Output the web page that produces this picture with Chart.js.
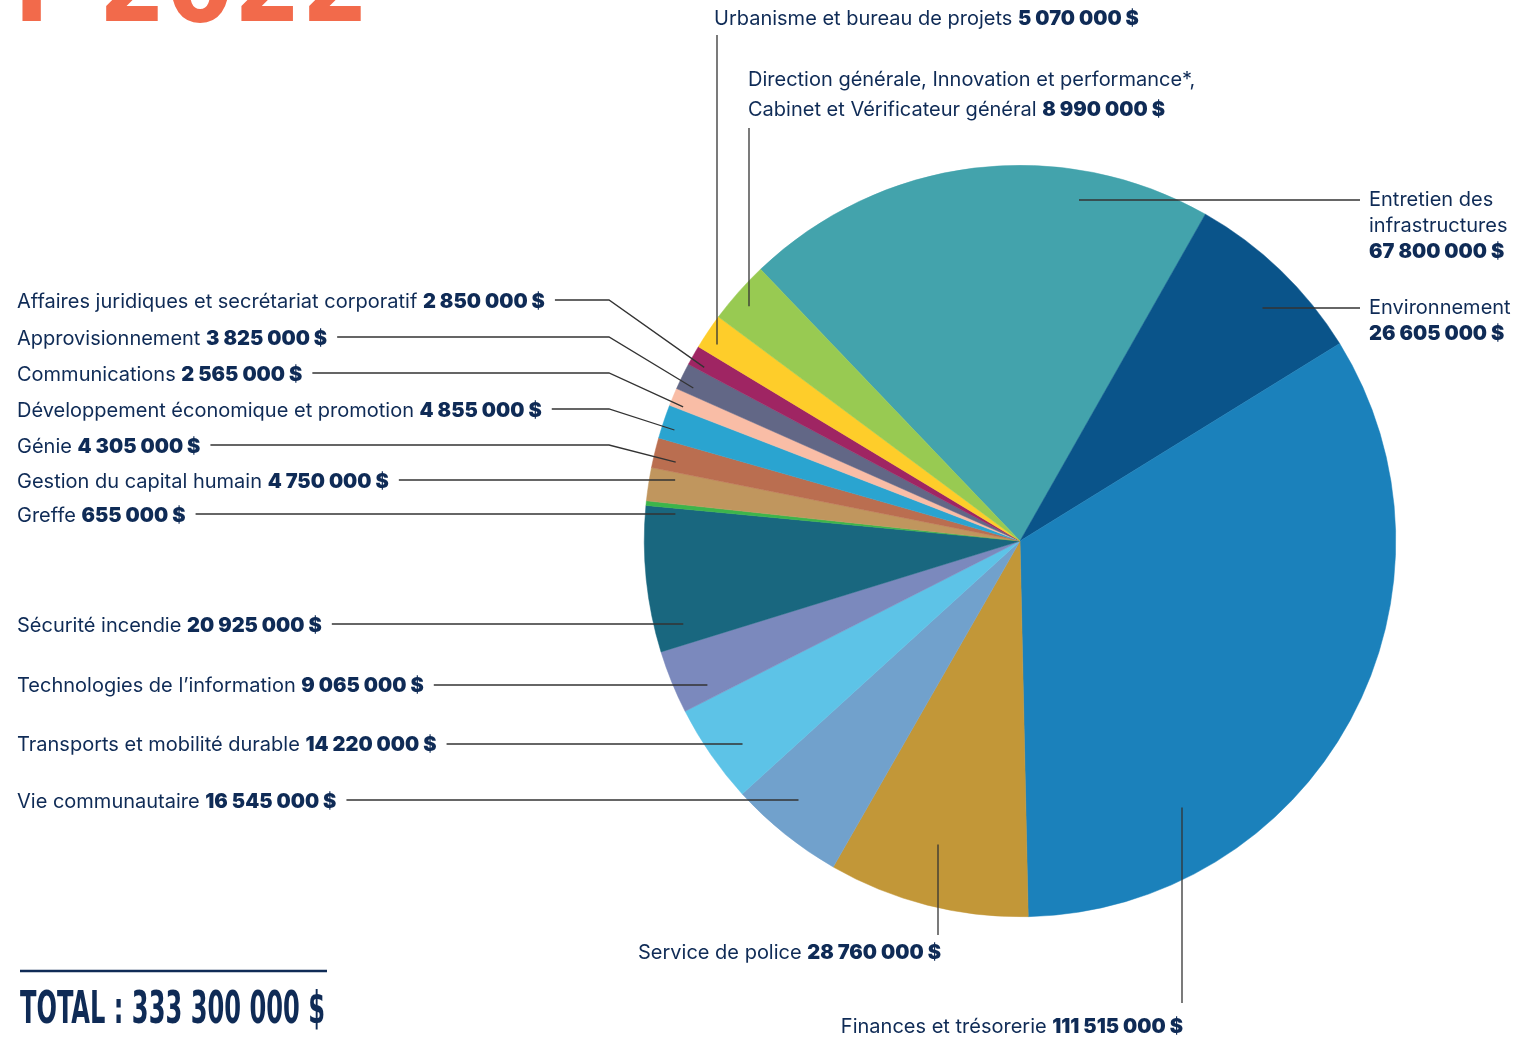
<!DOCTYPE html>
<html>
<head>
<meta charset="utf-8">
<script src="https://cdn.jsdelivr.net/npm/chart.js@4.4.1/dist/chart.umd.min.js"></script>
<style>
  html, body { margin: 0; padding: 0; background: #fff; }
  #wrap { width: 1536px; height: 1041px; position: relative; }
</style>
</head>
<body>
<div id="wrap"><canvas id="budgetChart"></canvas></div>
<script>
// Données du budget par service
var categories = [
  "Entretien des infrastructures",
  "Environnement",
  "Finances et trésorerie",
  "Service de police",
  "Vie communautaire",
  "Transports et mobilité durable",
  "Technologies de l’information",
  "Sécurité incendie",
  "Greffe",
  "Gestion du capital humain",
  "Génie",
  "Développement économique et promotion",
  "Communications",
  "Approvisionnement",
  "Affaires juridiques et secrétariat corporatif",
  "Urbanisme et bureau de projets",
  "Direction générale, Innovation et performance*, Cabinet et Vérificateur général"
];
var values = [
  67800000, 26605000, 111515000, 28760000, 16545000, 14220000, 9065000,
  20925000, 655000, 4750000, 4305000, 4855000, 2565000, 3825000, 2850000,
  5070000, 8990000
];
var colors = [
  "#43a3ac", "#0a548a", "#1b81bb", "#c29738", "#71a1cc", "#5dc3e7", "#7b89bd",
  "#19677f", "#3cb54b", "#c0965e", "#ba6e50", "#2aa4d0", "#f9bda6", "#626786",
  "#9f2563", "#fecd2a", "#98ca52"
];

// Mise en page des étiquettes (même ordre que categories)
var labelLayout = [
  { x: 1369, y: 198, lh: 26, lines: ["Entretien des", "infrastructures"], ownLine: true, leader: { type: "h", y: 200, rf: 0.921, side: 1, to: 1360 } },
  { x: 1369, y: 306, lh: 26, lines: ["Environnement"], ownLine: true, leader: { type: "h", y: 308, rf: 0.895, side: 1, to: 1360 } },
  { x: 1183, y: 1025, right: true, lines: ["Finances et trésorerie"], leader: { type: "v", x: 1182, from: 1003, rf: 0.83, side: 1 } },
  { x: 941, y: 951, right: true, lines: ["Service de police"], leader: { type: "v", x: 938, from: 935, rf: 0.837, side: 1 } },
  { x: 17, y: 800, lines: ["Vie communautaire"], leader: { type: "h", y: 800, rf: 0.907, side: -1 } },
  { x: 17, y: 743, lines: ["Transports et mobilité durable"], leader: { type: "h", y: 744, rf: 0.915, side: -1 } },
  { x: 17, y: 684, lines: ["Technologies de l’information"], leader: { type: "h", y: 685, rf: 0.916, side: -1 } },
  { x: 17, y: 624, lines: ["Sécurité incendie"], leader: { type: "h", y: 624, rf: 0.923, side: -1 } },
  { x: 17, y: 514, lines: ["Greffe"], leader: { type: "h", y: 514, rf: 0.92, side: -1 } },
  { x: 17, y: 480, lines: ["Gestion du capital humain"], leader: { type: "h", y: 480, rf: 0.932, side: -1 } },
  { x: 17, y: 445, lines: ["Génie"], leader: { type: "elbow", ex: 609, t: 0.35, rf: 0.94 } },
  { x: 17, y: 409, lines: ["Développement économique et promotion"], leader: { type: "elbow", ex: 609, t: 0.36, rf: 0.966 } },
  { x: 17, y: 373, lines: ["Communications"], leader: { type: "elbow", ex: 609, t: 0.2, rf: 0.965 } },
  { x: 17, y: 337, lines: ["Approvisionnement"], leader: { type: "elbow", ex: 609, t: 0.28, rf: 0.96 } },
  { x: 17, y: 300, lines: ["Affaires juridiques et secrétariat corporatif"], leader: { type: "elbow", ex: 609, t: 0.24, rf: 0.959 } },
  { x: 714, y: 17, lines: ["Urbanisme et bureau de projets"], leader: { type: "v", x: 717, from: 35, rf: 0.961, side: -1 } },
  { x: 748, y: 78, lh: 30, lines: ["Direction générale, Innovation et performance*,", "Cabinet et Vérificateur général"], leader: { type: "v", x: 749, from: 128, rf: 0.954, side: -1 } }
];

var textColor = "#0f2b56";
var fontName = "400 20px Inter, 'Noto Sans', sans-serif";
var fontValue = "900 20px Inter, 'Noto Sans', sans-serif";
var textNudge = 1.5; // le texte Inter « middle » est un peu haut

function money(v) {
  return String(v).replace(/\B(?=(\d{3})+(?!\d))/g, " ") + " $";
}

// Dessine les étiquettes, les lignes de rappel, le titre et le total
var labelsPlugin = {
  id: "budgetLabels",
  afterDraw: function (chart) {
    var ctx = chart.ctx;
    var arcs = chart.getDatasetMeta(0).data;
    ctx.save();
    ctx.textBaseline = "middle";
    ctx.textAlign = "left";

    labelLayout.forEach(function (lay, i) {
      var val = money(values[i]);
      var rows = lay.lines.slice();
      var lh = lay.lh || 26;
      var lastEnd = 0;
      rows.forEach(function (row, k) {
        var y = lay.y + k * lh + textNudge;
        var isLast = k === rows.length - 1;
        ctx.font = fontName;
        var wName = ctx.measureText(row).width;
        var wSp = ctx.measureText(" ").width;
        ctx.font = fontValue;
        var wVal = ctx.measureText(val).width;
        var withVal = isLast && !lay.ownLine;
        var total = wName + (withVal ? wSp + wVal : 0);
        var x0 = lay.right ? lay.x - total : lay.x;
        ctx.fillStyle = textColor;
        ctx.font = fontName;
        ctx.fillText(row, x0, y);
        if (withVal) {
          ctx.font = fontValue;
          ctx.fillText(val, x0 + wName + wSp, y);
        }
        if (k === 0) lastEnd = x0 + total;
      });
      if (lay.ownLine) {
        ctx.font = fontValue;
        ctx.fillText(val, lay.x, lay.y + rows.length * lh + textNudge);
      }

      // ligne de rappel
      var a = arcs[i].getProps(["x", "y", "startAngle", "endAngle", "outerRadius"], true);
      var L = lay.leader;
      var R = a.outerRadius * L.rf;
      ctx.strokeStyle = "#333";
      ctx.lineWidth = 1.3;
      ctx.beginPath();
      if (L.type === "h") {
        var dy = L.y - a.y;
        var xa = a.x + L.side * Math.sqrt(R * R - dy * dy);
        if (L.side < 0) {
          ctx.moveTo(lastEnd + 10, L.y);
          ctx.lineTo(xa, L.y);
        } else {
          ctx.moveTo(xa, L.y);
          ctx.lineTo(L.to, L.y);
        }
      } else if (L.type === "v") {
        var dx = L.x - a.x;
        var ya = a.y + L.side * Math.sqrt(R * R - dx * dx);
        ctx.moveTo(L.x, L.from);
        ctx.lineTo(L.x, ya);
      } else {
        var ang = a.startAngle + L.t * (a.endAngle - a.startAngle);
        ctx.moveTo(lastEnd + 10, lay.y);
        ctx.lineTo(L.ex, lay.y);
        ctx.lineTo(a.x + R * Math.cos(ang), a.y + R * Math.sin(ang));
      }
      ctx.stroke();
    });

    // titre (coupé en haut de la page)
    ctx.fillStyle = "#f26a4b";
    ctx.textAlign = "right";
    ctx.textBaseline = "alphabetic";
    ctx.font = "bold 108px 'Liberation Sans Narrow', 'DejaVu Sans Condensed', sans-serif";
    ctx.fillText("BUDGET 2022", 369, 21);

    // total
    var sum = values.reduce(function (s, v) { return s + v; }, 0);
    ctx.strokeStyle = "#0f2b56";
    ctx.lineWidth = 2.5;
    ctx.beginPath();
    ctx.moveTo(20, 971);
    ctx.lineTo(327, 971);
    ctx.stroke();
    ctx.fillStyle = "#0f2b56";
    ctx.textAlign = "left";
    ctx.font = "bold 45px 'Liberation Sans Narrow', 'DejaVu Sans Condensed', sans-serif";
    ctx.fillText("TOTAL : " + money(sum), 20, 1023, 305);
    ctx.restore();
  }
};

var ctx = document.getElementById("budgetChart").getContext("2d");
var myChart = new Chart(ctx, {
  type: "pie",
  data: {
    labels: categories,
    datasets: [
      {
        data: values,
        backgroundColor: colors,
        borderColor: colors,
        borderWidth: 0.5
      }
    ]
  },
  options: {
    responsive: true,
    maintainAspectRatio: false,
    animation: false,
    rotation: -43.67,
    layout: { padding: { left: 644, right: 140, top: 165, bottom: 124 } },
    plugins: {
      legend: { display: false },
      tooltip: { enabled: false }
    }
  },
  plugins: [labelsPlugin]
});
</script>
</body>
</html>
